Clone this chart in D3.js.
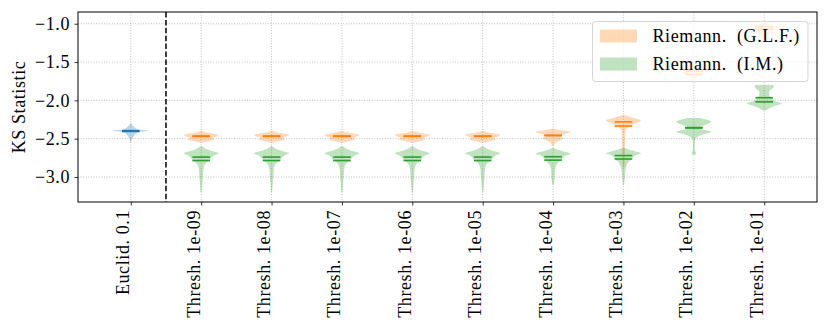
<!DOCTYPE html>
<html>
<head>
<meta charset="utf-8">
<script src="https://cdn.jsdelivr.net/npm/d3@7"></script>
<style>
  body { margin: 0; background: #fff; }
  svg text { font-family: "Liberation Serif", "DejaVu Serif", serif; fill: #000; letter-spacing: 0.6px; }
</style>
</head>
<body>
<svg id="chart"></svg>
<script>
// x categories
var categories = ["Euclid. 0.1", "Thresh. 1e-09", "Thresh. 1e-08", "Thresh. 1e-07",
  "Thresh. 1e-06", "Thresh. 1e-05", "Thresh. 1e-04", "Thresh. 1e-03",
  "Thresh. 1e-02", "Thresh. 1e-01"];
var yTicks = [-3.0, -2.5, -2.0, -1.5, -1.0];
var seriesNames = ["Riemann. (G.L.F.)", "Riemann. (I.M.)"];

// violin outlines: [KS value, relative half width]
var euclidShape = [[-2.30,0.03],[-2.33,0.12],[-2.36,0.28],[-2.38,0.45],[-2.395,1.0],[-2.41,0.5],
  [-2.43,0.32],[-2.46,0.18],[-2.50,0.08],[-2.54,0.03]];
var euclidMean = -2.405, euclidMedian = -2.395;

var glfShapes = [
  null,
  [[-2.40,0.05],[-2.42,0.35],[-2.44,0.85],[-2.455,1.0],[-2.47,0.85],[-2.49,0.65],[-2.51,0.75],[-2.53,0.45],[-2.55,0.1]],
  [[-2.40,0.05],[-2.42,0.35],[-2.44,0.85],[-2.455,1.0],[-2.47,0.85],[-2.49,0.65],[-2.51,0.75],[-2.53,0.45],[-2.55,0.1]],
  [[-2.40,0.05],[-2.42,0.35],[-2.44,0.85],[-2.455,1.0],[-2.47,0.85],[-2.49,0.65],[-2.51,0.75],[-2.53,0.45],[-2.55,0.1]],
  [[-2.40,0.05],[-2.42,0.35],[-2.44,0.85],[-2.455,1.0],[-2.47,0.85],[-2.49,0.65],[-2.51,0.75],[-2.53,0.45],[-2.55,0.1]],
  [[-2.40,0.05],[-2.42,0.35],[-2.44,0.85],[-2.455,1.0],[-2.47,0.85],[-2.49,0.65],[-2.51,0.75],[-2.53,0.45],[-2.55,0.1]],
  [[-2.37,0.05],[-2.39,0.5],[-2.41,1.0],[-2.43,0.8],[-2.45,0.45],[-2.47,0.4],[-2.49,0.6],[-2.51,0.5],[-2.53,0.3],[-2.56,0.12],[-2.60,0.05]],
  [[-2.19,0.05],[-2.21,0.3],[-2.24,0.75],[-2.26,1.0],[-2.29,0.8],[-2.32,0.5],[-2.35,0.25],[-2.38,0.14],[-2.42,0.1],
   [-2.50,0.09],[-2.60,0.09],[-2.70,0.08],[-2.80,0.07],[-2.88,0.04]],
  [[-1.50,0.1],[-1.54,0.5],[-1.58,1.0],[-1.62,0.8],[-1.66,0.5],[-1.70,0.2],[-1.73,0.05]],
  [[-0.99,0.1],[-1.02,0.5],[-1.05,1.0],[-1.08,0.8],[-1.12,0.45],[-1.16,0.15],[-1.19,0.05]]
];
var glfMeans   = [null, -2.470, -2.470, -2.470, -2.470, -2.470, -2.460, -2.335, -1.660, -1.070];
var glfMedians = [null, -2.465, -2.465, -2.465, -2.465, -2.465, -2.455, -2.280, -1.620, -1.040];

var imShapes = [
  null,
  [[-2.60,0.05],[-2.63,0.25],[-2.66,0.6],[-2.69,1.0],[-2.72,0.72],[-2.75,0.58],[-2.78,0.48],[-2.81,0.3],[-2.85,0.18],
   [-2.90,0.13],[-2.95,0.11],[-3.00,0.1],[-3.05,0.08],[-3.10,0.06],[-3.15,0.05],[-3.20,0.03]],
  [[-2.60,0.05],[-2.63,0.25],[-2.66,0.6],[-2.69,1.0],[-2.72,0.72],[-2.75,0.58],[-2.78,0.48],[-2.81,0.3],[-2.85,0.18],
   [-2.90,0.13],[-2.95,0.11],[-3.00,0.1],[-3.05,0.08],[-3.10,0.06],[-3.15,0.05],[-3.20,0.03]],
  [[-2.60,0.05],[-2.63,0.25],[-2.66,0.6],[-2.69,1.0],[-2.72,0.72],[-2.75,0.58],[-2.78,0.48],[-2.81,0.3],[-2.85,0.18],
   [-2.90,0.13],[-2.95,0.11],[-3.00,0.1],[-3.05,0.08],[-3.10,0.06],[-3.15,0.05],[-3.20,0.03]],
  [[-2.60,0.05],[-2.63,0.25],[-2.66,0.6],[-2.69,1.0],[-2.72,0.72],[-2.75,0.58],[-2.78,0.48],[-2.81,0.3],[-2.85,0.18],
   [-2.90,0.13],[-2.95,0.11],[-3.00,0.1],[-3.05,0.08],[-3.10,0.06],[-3.15,0.05],[-3.20,0.03]],
  [[-2.60,0.05],[-2.63,0.25],[-2.66,0.6],[-2.69,1.0],[-2.72,0.72],[-2.75,0.58],[-2.78,0.48],[-2.81,0.3],[-2.85,0.18],
   [-2.90,0.13],[-2.95,0.11],[-3.00,0.1],[-3.05,0.08],[-3.10,0.06],[-3.15,0.05],[-3.20,0.03]],
  [[-2.62,0.05],[-2.65,0.35],[-2.68,0.85],[-2.70,1.0],[-2.72,0.7],[-2.75,0.55],[-2.78,0.45],[-2.81,0.3],[-2.85,0.18],
   [-2.90,0.12],[-2.95,0.1],[-3.00,0.09],[-3.05,0.07],[-3.10,0.04]],
  [[-2.62,0.08],[-2.65,0.45],[-2.68,0.9],[-2.69,1.0],[-2.71,0.75],[-2.74,0.55],[-2.77,0.45],[-2.80,0.3],[-2.85,0.18],
   [-2.90,0.12],[-2.95,0.1],[-3.00,0.08],[-3.05,0.06],[-3.10,0.04]],
  [[-2.23,0.35],[-2.25,0.7],[-2.28,1.0],[-2.31,0.75],[-2.34,0.4],[-2.36,0.3],[-2.38,0.5],[-2.41,1.0],[-2.44,0.6],
   [-2.47,0.25],[-2.50,0.1],[-2.55,0.06],[-2.60,0.05],[-2.65,0.06],[-2.68,0.12],[-2.70,0.12],[-2.71,0.06]],
  [[-1.80,0.5],[-1.82,0.55],[-1.85,0.45],[-1.89,0.28],[-1.93,0.28],[-1.97,0.42],[-2.01,0.6],[-2.04,1.0],[-2.07,0.6],
   [-2.10,0.3],[-2.13,0.1]]
];
var imMeans   = [null, -2.785, -2.785, -2.785, -2.785, -2.785, -2.780, -2.765, -2.360, -2.020];
var imMedians = [null, -2.740, -2.740, -2.740, -2.740, -2.740, -2.735, -2.720, -2.355, -1.965];

var blue = "#1f77b4", orange = "#ff7f0e", green = "#2ca02c";

var svgWidth = 830, svgHeight = 332;
var plot = { left: 78, right: 817, top: 12, bottom: 202 };

var svg = d3.select("#chart")
  .attr("width", svgWidth)
  .attr("height", svgHeight);

var x = d3.scaleLinear().domain([-0.75, 9.75]).range([plot.left, plot.right]);
var y = d3.scaleLinear().domain([-3.326, -0.847]).range([plot.bottom, plot.top]);

var halfW = x(0.25) - x(0);   // violin width 0.5
var lineW = x(0.125) - x(0);  // mean/median line half length

svg.append("clipPath").attr("id", "clip")
  .append("rect")
  .attr("x", plot.left).attr("y", plot.top)
  .attr("width", plot.right - plot.left).attr("height", plot.bottom - plot.top);

// grid
var grid = svg.append("g")
  .attr("stroke", "#b0b0b0").attr("stroke-width", 0.8).attr("stroke-dasharray", "1,1.6");
grid.selectAll(".gy").data(yTicks).enter().append("line")
  .attr("x1", plot.left).attr("x2", plot.right)
  .attr("y1", d => y(d)).attr("y2", d => y(d));
grid.selectAll(".gx").data(categories).enter().append("line")
  .attr("x1", (d, i) => x(i)).attr("x2", (d, i) => x(i))
  .attr("y1", plot.top).attr("y2", plot.bottom);

var chart = svg.append("g").attr("clip-path", "url(#clip)");

function violin(shape, pos, color) {
  var cx = x(pos);
  var area = d3.area()
    .curve(d3.curveMonotoneY)
    .y(d => y(d[0]))
    .x0(d => cx - d[1] * halfW)
    .x1(d => cx + d[1] * halfW);
  chart.append("path")
    .attr("d", area(shape))
    .attr("fill", color)
    .attr("fill-opacity", 0.3);
}

function statLine(v, pos, color) {
  chart.append("line")
    .attr("x1", x(pos) - lineW).attr("x2", x(pos) + lineW)
    .attr("y1", y(v)).attr("y2", y(v))
    .attr("stroke", color).attr("stroke-width", 1.6);
}

violin(euclidShape, 0, blue);
categories.forEach(function(c, i) {
  if (glfShapes[i]) violin(glfShapes[i], i, orange);
  if (imShapes[i]) violin(imShapes[i], i, green);
});

statLine(euclidMean, 0, blue);
statLine(euclidMedian, 0, blue);
categories.forEach(function(c, i) {
  if (glfShapes[i]) { statLine(glfMeans[i], i, orange); statLine(glfMedians[i], i, orange); }
  if (imShapes[i]) { statLine(imMeans[i], i, green); statLine(imMedians[i], i, green); }
});

// separator between euclidean and thresholds
svg.append("line")
  .attr("x1", x(0.5)).attr("x2", x(0.5))
  .attr("y1", plot.top).attr("y2", plot.bottom)
  .attr("stroke", "#000").attr("stroke-width", 1.5)
  .attr("stroke-dasharray", "5.5,2.4");

// axes
var yAxis = svg.append("g")
  .attr("transform", `translate(${plot.left},0)`)
  .call(d3.axisLeft(y).tickValues(yTicks).tickFormat(d3.format(".1f")).tickSize(3.5).tickPadding(4.5));
yAxis.select(".domain").remove();
yAxis.selectAll("text").attr("font-size", 18);
yAxis.selectAll("line").attr("stroke-width", 0.8);

var xAxis = svg.append("g")
  .attr("transform", `translate(0,${plot.bottom})`)
  .call(d3.axisBottom(x).tickValues(d3.range(categories.length)).tickFormat(i => categories[i]).tickSize(3.5));
xAxis.select(".domain").remove();
xAxis.selectAll("line").attr("stroke-width", 0.8);
xAxis.selectAll("text")
  .attr("x", 0).attr("y", 0).attr("dy", null)
  .attr("transform", "translate(-2,8) rotate(-90)")
  .attr("text-anchor", "end")
  .attr("font-size", 18);

svg.append("rect")
  .attr("x", plot.left).attr("y", plot.top)
  .attr("width", plot.right - plot.left).attr("height", plot.bottom - plot.top)
  .attr("fill", "none").attr("stroke", "#000").attr("stroke-width", 1);

svg.append("text")
  .attr("transform", `translate(25,${(plot.top + plot.bottom) / 2}) rotate(-90)`)
  .attr("text-anchor", "middle")
  .attr("font-size", 18)
  .text("KS Statistic");

// legend
var legend = svg.append("g").attr("transform", "translate(592.5,21.5)");
legend.append("rect")
  .attr("width", 215.5).attr("height", 60).attr("rx", 3)
  .attr("fill", "#fff").attr("fill-opacity", 0.8)
  .attr("stroke", "#cccccc").attr("stroke-opacity", 0.8);
var items = legend.selectAll(".item")
  .data(seriesNames).enter().append("g")
  .attr("transform", (d, i) => `translate(0,${8 + i * 28})`);
items.append("rect")
  .attr("x", 7.5).attr("width", 37).attr("height", 13)
  .attr("fill", (d, i) => i === 0 ? orange : green)
  .attr("fill-opacity", 0.3);
items.append("text")
  .attr("x", 60).attr("y", 6.5).attr("dy", "0.35em")
  .attr("font-size", 18)
  .text(d => d.replace(". (", ".  ("))
  .style("white-space", "pre");
</script>
</body>
</html>
